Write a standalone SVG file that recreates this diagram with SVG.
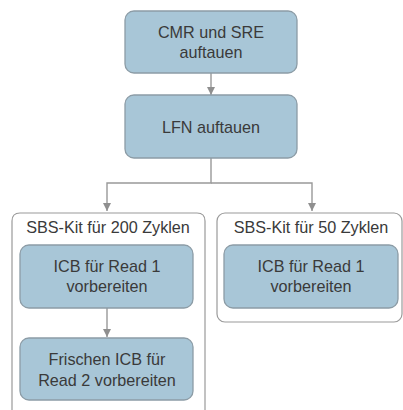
<svg xmlns="http://www.w3.org/2000/svg" width="403" height="410" viewBox="0 0 403 410">
<defs>
<marker id="ah" markerWidth="8" markerHeight="8" refX="8" refY="4" orient="auto" markerUnits="userSpaceOnUse">
<path d="M0,0 L8,4 L0,8 Z" fill="#8f8f8f"/>
</marker>
</defs>
<style>
.box{fill:#a8c6d7;stroke:#8c9ca6;stroke-width:1.3}
.cont{fill:none;stroke:#9a9a9a;stroke-width:1.2}
.t{font-family:"Liberation Sans",Arial,sans-serif;font-size:16.2px;fill:#3a3a3a;text-anchor:middle}
.c{fill:none;stroke:#999;stroke-width:1.4}
</style>
<rect width="403" height="410" fill="#fff"/>
<g id="kit200">
<path class="cont" d="M12,412 V221 Q12,213 20,213 H197 Q205,213 205,221 V412"/>
<text class="t" x="108" y="233">SBS-Kit für 200 Zyklen</text>
</g>
<g id="kit50">
<rect class="cont" x="217" y="213" width="185" height="109" rx="8"/>
<text class="t" x="311" y="233">SBS-Kit für 50 Zyklen</text>
</g>
<g id="connectors">
<line class="c" x1="211" y1="73" x2="211" y2="95" marker-end="url(#ah)"/>
<path class="c" d="M211,158 V183 H107 V211" marker-end="url(#ah)"/>
<path class="c" d="M211,183 H312 V211" marker-end="url(#ah)"/>
<line class="c" x1="107" y1="308" x2="107" y2="337" marker-end="url(#ah)"/>
</g>
<g id="n1">
<rect class="box" x="125" y="11" width="172" height="62" rx="9"/>
<text class="t" x="211" y="38">CMR und SRE</text>
<text class="t" x="211" y="58">auftauen</text>
</g>
<g id="n2">
<rect class="box" x="125" y="95" width="172" height="63" rx="9"/>
<text class="t" x="211" y="133">LFN auftauen</text>
</g>
<g id="n3">
<rect class="box" x="20" y="245" width="173" height="63" rx="9"/>
<text class="t" x="107" y="272">ICB für Read 1</text>
<text class="t" x="107" y="292">vorbereiten</text>
</g>
<g id="n4">
<rect class="box" x="20" y="338" width="173" height="62" rx="9"/>
<text class="t" x="107" y="365">Frischen ICB für</text>
<text class="t" x="107" y="386">Read 2 vorbereiten</text>
</g>
<g id="n5">
<rect class="box" x="224" y="245" width="174" height="63" rx="9"/>
<text class="t" x="311" y="272">ICB für Read 1</text>
<text class="t" x="311" y="292">vorbereiten</text>
</g>
</svg>
